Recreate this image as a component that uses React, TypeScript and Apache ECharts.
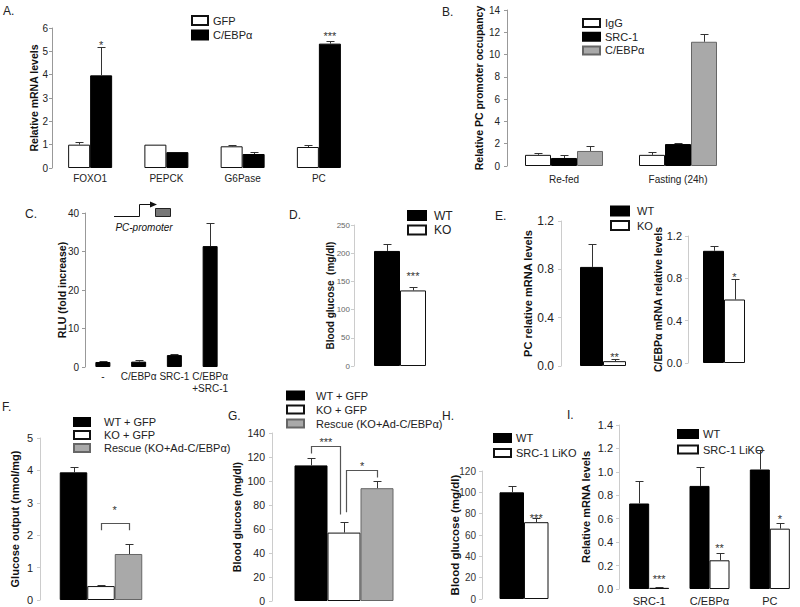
import React, { useEffect, useRef } from 'react';
import * as echarts from 'echarts';

const FONT = '"Liberation Sans", Arial, Helvetica, sans-serif';

// ---------- Data ----------
// A
const aCategories = ['FOXO1', 'PEPCK', 'G6Pase', 'PC'];
const aGfp = [1.0, 1.0, 0.93, 0.9];
const aGfpErr = [0.1, 0, 0.05, 0.08];
const aCebp = [3.97, 0.68, 0.6, 5.33];
const aCebpErr = [1.23, 0, 0.08, 0.12];
const aStars = [
  { cat: 0, bar: 1, y: 5.41, text: '*' },
  { cat: 3, bar: 1, y: 5.8, text: '***' },
];
// B
const bCategories = ['Re-fed', 'Fasting (24h)'];
const bIgg = [1.0, 1.0];
const bIggErr = [0.2, 0.28];
const bSrc = [0.72, 1.97];
const bSrcErr = [0.27, 0.05];
const bCebp = [1.35, 11.15];
const bCebpErr = [0.48, 0.72];
// C
const cCategories = ['-', 'C/EBPα', 'SRC-1', 'C/EBPα\n+SRC-1'];
const cValues = [1.3, 1.4, 3.1, 31.4];
const cErr = [0.2, 0.4, 0.3, 5.9];
// D
const dCategories = [''];
const dWT = [204];
const dWTErr = [13];
const dKO = [134];
const dKOErr = [6];
const dStars = [{ cat: 0, bar: 1, y: 165, text: '***' }];
// E (PC)
const e1WT = [0.82];
const e1WTErr = [0.19];
const e1KO = [0.04];
const e1KOErr = [0.015];
const e1Stars = [{ cat: 0, bar: 1, y: 0.1, text: '**' }];
// E (C/EBPα)
const e2WT = [1.06];
const e2WTErr = [0.05];
const e2KO = [0.6];
const e2KOErr = [0.19];
const e2Stars = [{ cat: 0, bar: 1, y: 0.84, text: '*' }];
// F
const fWT = [3.94];
const fWTErr = [0.16];
const fKO = [0.43];
const fKOErr = [0.02];
const fRescue = [1.42];
const fRescueErr = [0.31];
const fStars = [{ cat: 0, bar: 1.5, y: 2.87, text: '*' }];
const fBrackets = [{ cat: 0, from: 1, to: 2, yFrom: 2.15, yTo: 2.15, yTop: 2.37, dxFrom: 0, dxTo: 0 }];
// G
const gWT = [113];
const gWTErr = [6];
const gKO = [57];
const gKOErr = [9];
const gRescue = [94];
const gRescueErr = [6];
const gStars = [
  { cat: 0, bar: 0.45, y: 135, text: '***' },
  { cat: 0, bar: 1.55, y: 115, text: '*' },
];
const gBrackets = [
  { cat: 0, from: 0, to: 1, yFrom: 123, yTo: 72, yTop: 129, dxFrom: 0, dxTo: -4 },
  { cat: 0, from: 1, to: 2, yFrom: 74, yTo: 103, yTop: 109, dxFrom: 2, dxTo: 0 },
];
// H
const hWT = [100];
const hWTErr = [6];
const hKO = [72];
const hKOErr = [4];
const hStars = [{ cat: 0, bar: 1, y: 79, text: '***' }];
// I
const iCategories = ['SRC-1', 'C/EBPα', 'PC'];
const iWT = [0.73, 0.88, 1.02];
const iWTErr = [0.19, 0.16, 0.17];
const iKO = [0.01, 0.245, 0.515];
const iKOErr = [0.005, 0.06, 0.05];
const iStars = [
  { cat: 0, bar: 1, y: 0.107, text: '***' },
  { cat: 1, bar: 1, y: 0.377, text: '**' },
  { cat: 2, bar: 1, y: 0.62, text: '*' },
];

// ---------- Styles ----------
const WHITE = { color: '#ffffff', border: '#111111' };
const BLACK = { color: '#000000', border: '#000000' };
const GRAY = { color: '#a9a9a9', border: '#666666' };

type Bar = { name: string; values: number[]; errors: number[]; color: string; border: string };
type Star = { cat: number; bar: number; y: number; text: string };
type Bracket = { cat: number; from: number; to: number; yFrom: number; yTo: number; yTop: number; dxFrom: number; dxTo: number };
type Panel = {
  grid: { left: number; top: number; width: number; height: number };
  categories: string[];
  bars: Bar[];
  barWidth: number;
  yMax: number;
  yInterval: number;
  yDec: number;
  yName: string;
  yNameGap: number;
  yNameSize: number;
  tickFont: number;
  tickColor: string;
  tickMargin: number;
  axisColor: string;
  xFont: number;
  xMargin: number;
  stars: Star[];
  brackets: Bracket[];
  legend?: any;
};

const panels: Panel[] = [
  {
    grid: { left: 52, top: 28, width: 305, height: 140 },
    categories: aCategories,
    bars: [
      { name: 'A|GFP', values: aGfp, errors: aGfpErr, ...WHITE },
      { name: 'A|C/EBPα', values: aCebp, errors: aCebpErr, ...BLACK },
    ],
    barWidth: 22, yMax: 6, yInterval: 1, yDec: 0,
    yName: 'Relative mRNA levels', yNameGap: 12.5, yNameSize: 10.5,
    tickFont: 10, tickColor: '#222', tickMargin: 4, axisColor: '#999',
    xFont: 10, xMargin: 4, stars: aStars, brackets: [],
    legend: { left: 191, top: 15, itemWidth: 16, itemHeight: 9, itemGap: 3.5, fontSize: 11, pad: 0 },
  },
  {
    grid: { left: 507, top: 10, width: 228, height: 156 },
    categories: bCategories,
    bars: [
      { name: 'B|IgG', values: bIgg, errors: bIggErr, ...WHITE },
      { name: 'B|SRC-1', values: bSrc, errors: bSrcErr, ...BLACK },
      { name: 'B|C/EBPα', values: bCebp, errors: bCebpErr, ...GRAY },
    ],
    barWidth: 26, yMax: 14, yInterval: 2, yDec: 0,
    yName: 'Relative PC promoter occupancy', yNameGap: 22.5, yNameSize: 10.5,
    tickFont: 10, tickColor: '#222', tickMargin: 7, axisColor: '#999',
    xFont: 10, xMargin: 7, stars: [], brackets: [],
    legend: { left: 582, top: 17.5, itemWidth: 17, itemHeight: 8, itemGap: 2.7, fontSize: 11, pad: 0 },
  },
  {
    grid: { left: 85, top: 213, width: 143, height: 154 },
    categories: cCategories,
    bars: [{ name: 'C|RLU', values: cValues, errors: cErr, ...BLACK }],
    barWidth: 15, yMax: 40, yInterval: 10, yDec: 0,
    yName: 'RLU (fold increase)', yNameGap: 17.5, yNameSize: 10.5,
    tickFont: 10, tickColor: '#222', tickMargin: 6, axisColor: '#999',
    xFont: 10, xMargin: 3, stars: [], brackets: [],
  },
  {
    grid: { left: 354, top: 225, width: 92, height: 141 },
    categories: dCategories,
    bars: [
      { name: 'D|WT', values: dWT, errors: dWTErr, ...BLACK },
      { name: 'D|KO', values: dKO, errors: dKOErr, ...WHITE },
    ],
    barWidth: 26, yMax: 250, yInterval: 50, yDec: 0,
    yName: 'Blood glucose  (mg/dl)', yNameGap: 19, yNameSize: 10,
    tickFont: 8, tickColor: '#666', tickMargin: 4, axisColor: '#ccc',
    xFont: 10, xMargin: 4, stars: dStars, brackets: [],
    legend: { left: 407, top: 209.5, itemWidth: 18, itemHeight: 9, itemGap: 2.5, fontSize: 12, pad: 3 },
  },
  {
    grid: { left: 561, top: 221, width: 84, height: 145 },
    categories: [''],
    bars: [
      { name: 'E|WT', values: e1WT, errors: e1WTErr, ...BLACK },
      { name: 'E|KO', values: e1KO, errors: e1KOErr, ...WHITE },
    ],
    barWidth: 23, yMax: 1.2, yInterval: 0.4, yDec: 1,
    yName: 'PC relative mRNA levels', yNameGap: 28, yNameSize: 11,
    tickFont: 12, tickColor: '#222', tickMargin: 7, axisColor: '#ccc',
    xFont: 10, xMargin: 4, stars: e1Stars, brackets: [],
    legend: { left: 610, top: 205.5, itemWidth: 18, itemHeight: 9, itemGap: 3.5, fontSize: 11, pad: 3 },
  },
  {
    grid: { left: 688, top: 236, width: 72, height: 127 },
    categories: [''],
    bars: [
      { name: 'E2|WT', values: e2WT, errors: e2WTErr, ...BLACK },
      { name: 'E2|KO', values: e2KO, errors: e2KOErr, ...WHITE },
    ],
    barWidth: 21, yMax: 1.2, yInterval: 0.4, yDec: 1,
    yName: 'C/EBPα mRNA relative levels', yNameGap: 25, yNameSize: 10.5,
    tickFont: 11, tickColor: '#222', tickMargin: 6, axisColor: '#ccc',
    xFont: 10, xMargin: 4, stars: e2Stars, brackets: [],
  },
  {
    grid: { left: 40, top: 438, width: 122, height: 162 },
    categories: [''],
    bars: [
      { name: 'F|WT + GFP', values: fWT, errors: fWTErr, ...BLACK },
      { name: 'F|KO + GFP', values: fKO, errors: fKOErr, ...WHITE },
      { name: 'F|Rescue (KO+Ad-C/EBPα)', values: fRescue, errors: fRescueErr, ...GRAY },
    ],
    barWidth: 27.5, yMax: 5, yInterval: 1, yDec: 0,
    yName: 'Glucose output (nmol/mg)', yNameGap: 19.5, yNameSize: 11,
    tickFont: 11, tickColor: '#222', tickMargin: 7, axisColor: '#ccc',
    xFont: 10, xMargin: 4, stars: fStars, brackets: fBrackets,
    legend: { left: 73, top: 416.5, itemWidth: 16, itemHeight: 8, itemGap: 2, fontSize: 11, pad: 9 },
  },
  {
    grid: { left: 272, top: 433, width: 144, height: 168 },
    categories: [''],
    bars: [
      { name: 'G|WT + GFP', values: gWT, errors: gWTErr, ...BLACK },
      { name: 'G|KO + GFP', values: gKO, errors: gKOErr, ...WHITE },
      { name: 'G|Rescue (KO+Ad-C/EBPα)', values: gRescue, errors: gRescueErr, ...GRAY },
    ],
    barWidth: 33, yMax: 140, yInterval: 20, yDec: 0,
    yName: 'Blood glucose (mg/dl)', yNameGap: 29.5, yNameSize: 10.5,
    tickFont: 10.5, tickColor: '#222', tickMargin: 7, axisColor: '#ccc',
    xFont: 10, xMargin: 4, stars: gStars, brackets: gBrackets,
    legend: { left: 286, top: 390, itemWidth: 17, itemHeight: 8, itemGap: 3, fontSize: 11, pad: 7 },
  },
  {
    grid: { left: 482, top: 471, width: 84, height: 128 },
    categories: [''],
    bars: [
      { name: 'H|WT', values: hWT, errors: hWTErr, ...BLACK },
      { name: 'H|SRC-1 LiKO', values: hKO, errors: hKOErr, ...WHITE },
    ],
    barWidth: 24.5, yMax: 120, yInterval: 20, yDec: 0,
    yName: 'Blood glucose (mg/dl)', yNameGap: 21, yNameSize: 11.5,
    tickFont: 10, tickColor: '#333', tickMargin: 6, axisColor: '#ccc',
    xFont: 10, xMargin: 4, stars: hStars, brackets: [],
    legend: { left: 493, top: 432.5, itemWidth: 17, itemHeight: 8, itemGap: 4, fontSize: 11, pad: 0 },
  },
  {
    grid: { left: 619, top: 425, width: 195, height: 171 },
    categories: iCategories,
    bars: [
      { name: 'I|WT', values: iWT, errors: iWTErr, ...BLACK },
      { name: 'I|SRC-1 LiKO', values: iKO, errors: iKOErr, ...WHITE },
    ],
    barWidth: 20, yMax: 1.4, yInterval: 0.2, yDec: 1,
    yName: 'Relative mRNA levels', yNameGap: 27.5, yNameSize: 11,
    tickFont: 11, tickColor: '#222', tickMargin: 6, axisColor: '#ccc',
    xFont: 11, xMargin: 5, stars: iStars, brackets: [],
    legend: { left: 677, top: 428.5, itemWidth: 20, itemHeight: 8, itemGap: 4.5, fontSize: 11, pad: 0 },
  },
];

const panelLetters = [
  { t: 'A.', x: 3, y: 12 },
  { t: 'B.', x: 442, y: 13 },
  { t: 'C.', x: 25, y: 215 },
  { t: 'D.', x: 289, y: 216 },
  { t: 'E.', x: 495, y: 217 },
  { t: 'F.', x: 2, y: 408 },
  { t: 'G.', x: 228, y: 417 },
  { t: 'H.', x: 442, y: 417 },
  { t: 'I.', x: 567, y: 416 },
];

function buildOption() {
  const grid: any[] = [];
  const xAxis: any[] = [];
  const yAxis: any[] = [];
  const series: any[] = [];
  const legend: any[] = [];

  panels.forEach((p, i) => {
    grid.push({ ...p.grid, containLabel: false });
    xAxis.push({
      type: 'category', gridIndex: i, data: p.categories,
      axisLine: { show: false }, axisTick: { show: false }, splitLine: { show: false },
      axisLabel: { fontSize: p.xFont, color: '#222', fontFamily: FONT, margin: p.xMargin, interval: 0, lineHeight: p.xFont + 2 },
    });
    yAxis.push({
      type: 'value', gridIndex: i, min: 0, max: p.yMax, interval: p.yInterval,
      axisLine: { show: true, lineStyle: { color: p.axisColor, width: 1 } },
      axisTick: { show: true, length: 3, lineStyle: { color: p.axisColor } },
      splitLine: { show: false },
      axisLabel: {
        fontSize: p.tickFont, color: p.tickColor, fontFamily: FONT, margin: p.tickMargin,
        formatter: (v: number) => v.toFixed(p.yDec),
      },
      name: p.yName, nameLocation: 'middle', nameRotate: 90, nameGap: p.yNameGap,
      nameMoveOverlap: false,
      nameTextStyle: { fontWeight: 'bold', fontSize: p.yNameSize, color: '#111', fontFamily: FONT },
    });
    const n = p.bars.length;
    const bw = p.barWidth;
    p.bars.forEach((b) => {
      series.push({
        type: 'bar', name: b.name, xAxisIndex: i, yAxisIndex: i, data: b.values,
        barWidth: bw, barGap: '0%', silent: true,
        itemStyle: { color: b.color, borderColor: b.border, borderWidth: 1 },
      });
    });
    p.bars.forEach((b, j) => {
      const offset = (j - (n - 1) / 2) * bw;
      series.push({
        type: 'custom', xAxisIndex: i, yAxisIndex: i, silent: true, z: 5,
        encode: { x: 0, y: 1 },
        data: b.values.map((v, k) => [k, v, b.errors[k]]),
        renderItem: (_params: any, api: any) => {
          const c = api.value(0), v = api.value(1), e = api.value(2);
          if (!e) return null;
          const base = api.coord([c, v]);
          const top = api.coord([c, v + e]);
          const x = Math.round(base[0] + offset) + 0.5;
          const ty = Math.round(top[1]) + 0.5;
          return {
            type: 'group',
            children: [
              { type: 'line', shape: { x1: x, y1: base[1], x2: x, y2: ty }, style: { stroke: '#333', lineWidth: 1 } },
              { type: 'line', shape: { x1: x - 4, y1: ty, x2: x + 4, y2: ty }, style: { stroke: '#333', lineWidth: 1 } },
            ],
          };
        },
      });
    });
    if (p.stars.length) {
      const stars = p.stars;
      series.push({
        type: 'custom', xAxisIndex: i, yAxisIndex: i, silent: true, z: 6,
        encode: { x: 0, y: 1 },
        data: stars.map((s) => [s.cat, s.y, s.bar]),
        renderItem: (params: any, api: any) => {
          const s = stars[params.dataIndex];
          const pos = api.coord([api.value(0), api.value(1)]);
          const x = pos[0] + (api.value(2) - (n - 1) / 2) * bw;
          return {
            type: 'text', x, y: pos[1] + 3,
            style: { text: s.text, align: 'center', verticalAlign: 'middle', fill: '#333', font: `11px ${FONT}` },
          };
        },
      });
    }
    if (p.brackets.length) {
      const br = p.brackets;
      series.push({
        type: 'custom', xAxisIndex: i, yAxisIndex: i, silent: true, z: 6,
        encode: { x: 0, y: 1 },
        data: br.map((b) => [b.cat, b.yTop, b.from, b.yFrom, b.to, b.yTo]),
        renderItem: (params: any, api: any) => {
          const b = br[params.dataIndex];
          const cat = api.value(0);
          const cx = api.coord([cat, 0])[0];
          const xa = Math.round(cx + (api.value(2) - (n - 1) / 2) * bw + b.dxFrom) + 0.5;
          const xb = Math.round(cx + (api.value(4) - (n - 1) / 2) * bw + b.dxTo) + 0.5;
          const yt = Math.round(api.coord([cat, api.value(1)])[1]) + 0.5;
          const ya = api.coord([cat, api.value(3)])[1];
          const yb = api.coord([cat, api.value(5)])[1];
          return {
            type: 'polyline',
            shape: { points: [[xa, ya], [xa, yt], [xb, yt], [xb, yb]] },
            style: { stroke: '#555', lineWidth: 1.2, fill: 'none' },
          };
        },
      });
    }
    if (p.legend) {
      const L = p.legend;
      legend.push({
        data: p.bars.map((b) => b.name),
        orient: 'vertical', left: L.left, top: L.top, padding: 0,
        itemWidth: L.itemWidth, itemHeight: L.itemHeight, itemGap: L.itemGap,
        icon: 'rect', selectedMode: false,
        formatter: (nm: string) => nm.split('|')[1],
        textStyle: { fontSize: L.fontSize, color: '#222', fontFamily: FONT, padding: [0, 0, 0, L.pad] },
      });
    }
  });

  const graphic: any[] = panelLetters.map((l) => ({
    type: 'text', left: l.x, top: l.y - 7,
    style: { text: l.t, fill: '#222', font: `12px ${FONT}` },
  }));
  // PC-promoter diagram in panel C
  graphic.push(
    { type: 'polyline', shape: { points: [[114, 216.5], [139.5, 216.5], [139.5, 204.5], [151, 204.5]] }, style: { stroke: '#111', lineWidth: 1, fill: 'none' } },
    { type: 'polygon', shape: { points: [[150, 201.5], [157, 204.5], [150, 207.5]] }, style: { fill: '#111' } },
    { type: 'rect', shape: { x: 155.5, y: 208.5, width: 15, height: 8 }, style: { fill: '#777', stroke: '#222', lineWidth: 1 } },
    { type: 'text', x: 144, y: 227, style: { text: 'PC-promoter', fill: '#111', font: `italic 10px ${FONT}`, align: 'center', verticalAlign: 'middle' } },
  );

  return {
    animation: false,
    backgroundColor: '#ffffff',
    textStyle: { fontFamily: FONT },
    grid, xAxis, yAxis, series, legend, graphic,
  };
}

export default function App() {
  const ref = useRef<HTMLDivElement>(null);
  useEffect(() => {
    if (!ref.current) return;
    const chart = echarts.init(ref.current, undefined, { renderer: 'svg' });
    chart.setOption(buildOption());
    return () => chart.dispose();
  }, []);
  return <div ref={ref} style={{ position: 'absolute', left: 0, top: 0, width: 800, height: 607 }} />;
}
